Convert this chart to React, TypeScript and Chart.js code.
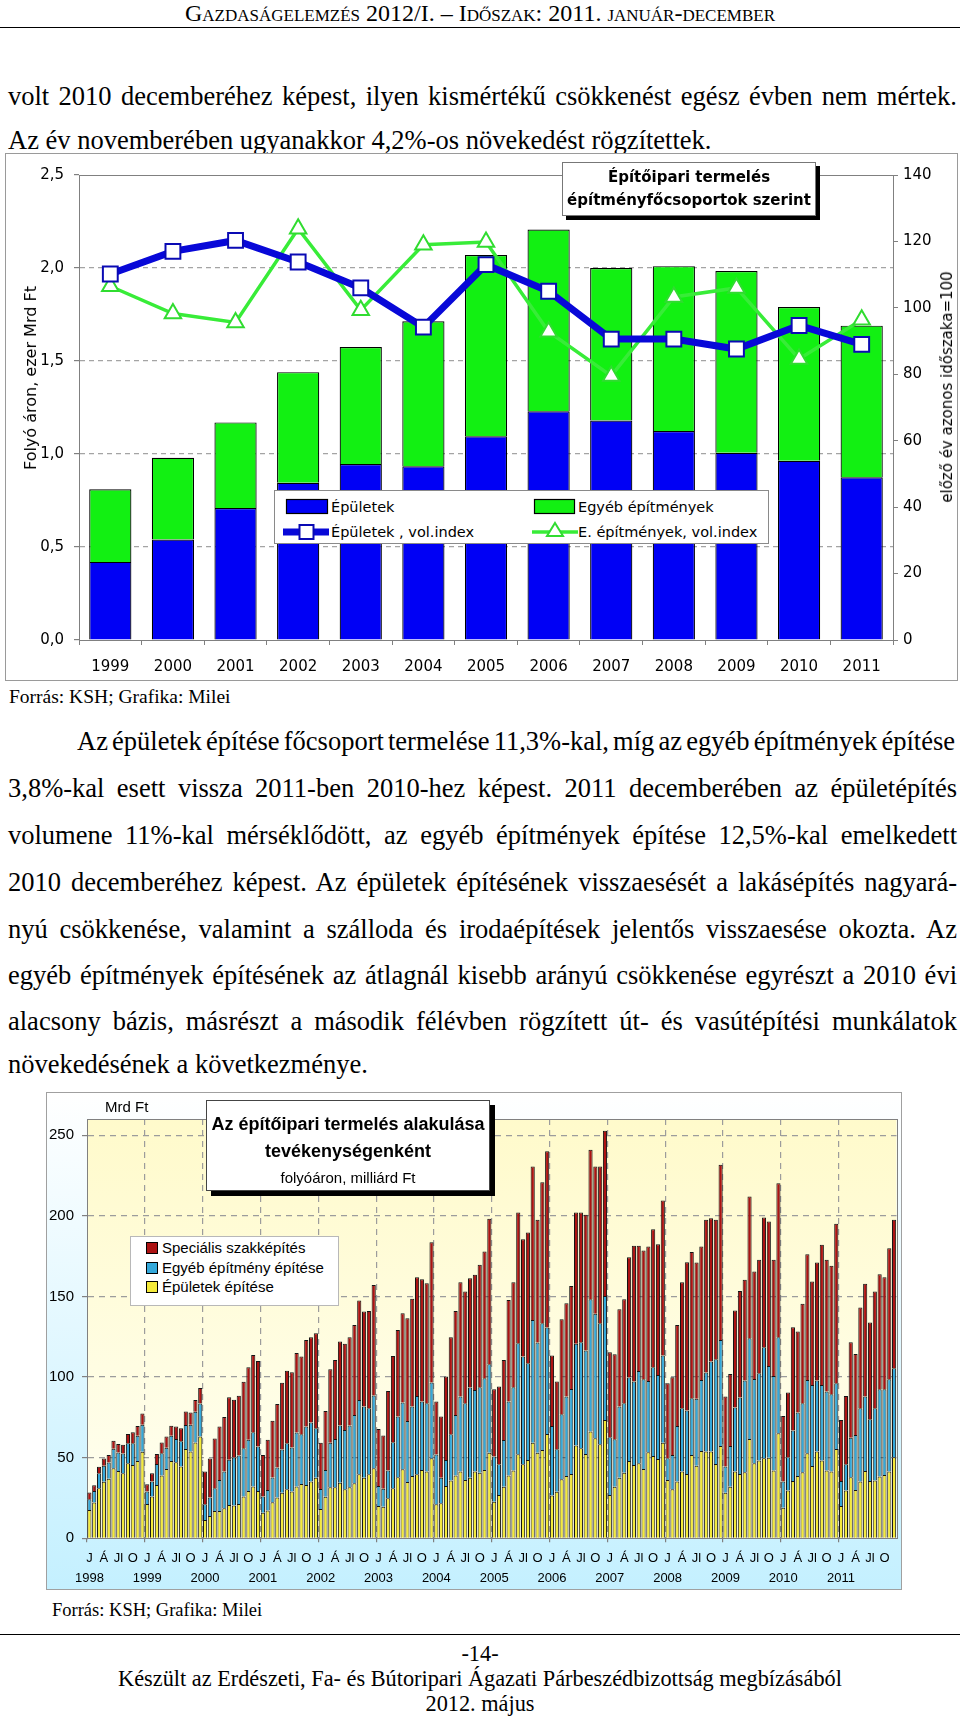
import React, { useEffect, useRef } from 'react';
import { Chart, registerables } from 'chart.js';

Chart.register(...registerables);

// ---------- 1. ábra: Építőipari termelés építményfőcsoportok szerint ----------
const EVEK = ['1999', '2000', '2001', '2002', '2003', '2004', '2005', '2006', '2007', '2008', '2009', '2010', '2011'];
// ezer Mrd Ft, folyó áron
const EPULETEK = [0.42, 0.54, 0.71, 0.845, 0.946, 0.934, 1.095, 1.23, 1.18, 1.123, 1.007, 0.964, 0.875];
const EGYEB_EPITMENYEK = [0.39, 0.44, 0.46, 0.595, 0.629, 0.78, 0.975, 0.977, 0.82, 0.887, 0.977, 0.826, 0.815];
// előző év azonos időszaka = 100
const EPULETEK_VOLINDEX = [110.2, 117, 120.3, 113.8, 106, 94.2, 113, 105, 90.6, 90.6, 87.6, 94.7, 89];
const EGYEB_VOLINDEX = [106.5, 98.3, 95.6, 123.8, 99.3, 119, 119.8, 92.8, 79.5, 103.3, 106, 84.6, 96.4];

// ---------- 2. ábra: havi termelés tevékenységenként (Mrd Ft) ----------
const HAVI_EVEK = [1998, 1999, 2000, 2001, 2002, 2003, 2004, 2005, 2006, 2007, 2008, 2009, 2010, 2011];
const HONAPOK = ['jan', 'febr', 'márc', 'ápr', 'máj', 'jún', 'júl', 'aug', 'szept', 'okt', 'nov', 'dec'];
const HONAP_JEL = ['J', '', '', 'Á', '', '', 'Jl', '', '', 'O', '', ''];

// Épületek építése (alsó réteg)
const EPULETEK_EPITESE = [
  17.6, 22.2, 31.0, 35.0, 37.0, 43.5, 41.8, 40.4, 46.6, 45.5, 48.0, 53.6,
  21.3, 25.9, 33.0, 39.0, 42.9, 48.0, 47.2, 44.5, 55.3, 53.8, 59.4, 63.1,
  11.4, 13.9, 17.0, 17.0, 18.6, 20.7, 20.3, 21.3, 25.9, 29.4, 32.1, 29.4,
  15.9, 17.2, 22.4, 25.3, 28.3, 30.4, 29.0, 32.1, 33.7, 33.0, 35.2, 37.6,
  18.2, 25.8, 31.6, 31.6, 34.5, 30.4, 31.6, 34.1, 39.7, 37.6, 39.7, 43.4,
  20.1, 19.6, 24.8, 31.0, 37.8, 42.8, 34.9, 38.7, 39.7, 42.4, 41.4, 49.6,
  21.1, 21.7, 32.5, 35.8, 38.9, 41.4, 36.2, 37.6, 41.4, 40.7, 42.4, 53.1,
  22.7, 26.9, 32.0, 38.9, 42.0, 52.1, 45.9, 48.6, 59.3, 53.1, 54.8, 64.7,
  26.5, 28.9, 36.6, 38.7, 39.9, 57.5, 55.8, 52.3, 66.2, 62.0, 58.3, 73.4,
  26.9, 32.0, 37.6, 40.7, 48.0, 45.5, 46.5, 43.0, 53.3, 51.0, 49.2, 59.3,
  36.2, 30.4, 35.2, 41.4, 39.9, 51.7, 45.0, 54.2, 53.8, 53.8, 46.1, 57.3,
  28.3, 32.0, 41.4, 39.9, 40.9, 61.6, 46.5, 48.2, 49.6, 50.0, 42.0, 65.1,
  19.0, 29.6, 35.6, 38.7, 40.9, 52.7, 44.9, 53.8, 48.2, 42.0, 41.4, 55.4,
  20.1, 29.6, 37.8, 30.0, 35.2, 41.8, 35.6, 35.8, 38.3, 39.3, 41.4, 50.2,
];
// Egyéb építmény építése réteg teteje (Épületek + Egyéb)
const EGYEB_RETEG_TETEJE = [
  24.2, 29.4, 40.4, 45.0, 47.0, 55.5, 53.2, 52.6, 59.0, 59.0, 63.6, 70.4,
  29.0, 35.2, 46.0, 52.8, 56.1, 63.6, 61.5, 60.2, 70.2, 70.4, 78.5, 83.6,
  21.1, 25.3, 31.0, 36.2, 41.4, 48.7, 50.1, 51.3, 55.9, 61.1, 65.8, 56.9,
  25.9, 30.0, 37.7, 43.9, 55.0, 59.0, 56.3, 65.6, 64.5, 69.3, 71.8, 68.2,
  30.6, 42.4, 59.3, 61.6, 69.9, 67.2, 69.9, 76.5, 85.8, 81.7, 80.6, 88.5,
  32.5, 30.8, 42.0, 59.6, 75.5, 84.2, 72.8, 81.7, 88.3, 84.8, 83.7, 96.6,
  52.0, 37.6, 48.6, 64.5, 76.5, 87.9, 83.7, 93.5, 92.0, 93.7, 99.3, 108.0,
  50.7, 45.9, 61.0, 84.8, 93.7, 121.0, 112.7, 108.6, 135.4, 121.4, 133.4, 130.7,
  69.7, 55.2, 76.9, 87.9, 92.6, 120.6, 121.6, 116.4, 148.3, 139.2, 133.4, 150.3,
  62.7, 61.4, 81.7, 83.7, 99.7, 97.2, 103.8, 98.6, 97.6, 106.0, 101.3, 113.3,
  49.6, 51.7, 69.7, 80.6, 79.2, 86.8, 86.5, 98.2, 102.8, 109.6, 111.0, 123.0,
  44.5, 57.3, 81.1, 87.3, 97.8, 124.0, 98.8, 102.4, 118.5, 106.9, 100.7, 124.7,
  35.2, 50.2, 66.8, 78.0, 83.7, 98.2, 95.1, 97.8, 95.1, 91.0, 89.3, 96.2,
  35.6, 45.9, 62.4, 64.1, 80.6, 87.9, 73.8, 80.6, 92.4, 92.4, 98.6, 105.5,
];
// Összesen (Speciális szakképítés réteg teteje)
const OSSZESEN = [
  28.4, 32.9, 44.3, 49.5, 51.6, 60.5, 58.4, 58.0, 64.6, 65.8, 69.6, 77.4,
  33.5, 40.4, 52.2, 59.4, 63.1, 69.8, 69.4, 68.3, 78.7, 78.0, 85.7, 93.2,
  41.4, 49.5, 61.9, 69.4, 75.2, 87.4, 85.9, 88.4, 97.1, 106.0, 113.7, 109.9,
  51.6, 61.1, 72.9, 83.2, 96.5, 103.9, 102.9, 114.9, 112.7, 123.0, 124.7, 127.2,
  59.3, 79.0, 104.8, 110.6, 122.0, 120.6, 124.7, 132.3, 147.4, 140.6, 141.0, 157.0,
  67.8, 63.7, 91.4, 113.1, 129.2, 139.6, 136.5, 148.5, 161.9, 160.7, 158.2, 183.5,
  84.8, 75.5, 100.3, 124.7, 141.0, 158.8, 153.0, 161.3, 163.4, 169.6, 177.8, 198.2,
  92.4, 94.1, 110.6, 147.8, 158.8, 202.0, 185.5, 189.6, 230.6, 197.5, 220.8, 240.0,
  113.3, 97.2, 135.9, 145.8, 156.5, 202.0, 202.0, 200.6, 240.9, 230.6, 230.6, 252.7,
  115.4, 114.1, 142.1, 148.3, 174.3, 181.4, 181.4, 178.5, 180.9, 191.7, 182.4, 209.5,
  96.2, 99.9, 132.3, 158.8, 171.2, 177.6, 171.0, 180.9, 197.5, 198.5, 197.5, 231.6,
  87.9, 101.9, 141.2, 153.4, 160.3, 212.0, 165.4, 172.7, 198.9, 196.4, 172.7, 220.2,
  75.9, 90.4, 130.9, 128.2, 145.4, 176.2, 159.2, 171.0, 182.0, 172.7, 169.0, 195.0,
  73.4, 88.3, 121.6, 114.3, 143.1, 157.8, 133.8, 153.0, 163.8, 161.9, 179.9, 197.5,
];

// ---------- szöveg ----------
const FEJLEC = 'Gazdaságelemzés 2012/I. – Időszak: 2011. január-december';
const FELSO_SOROK = [
  'volt 2010 decemberéhez képest, ilyen kismértékű csökkenést egész évben nem mértek.',
  'Az év novemberében ugyanakkor 4,2%-os növekedést rögzítettek.',
];
const BEKEZDES = [
  'Az épületek építése főcsoport termelése 11,3%-kal, míg az egyéb építmények építése',
  '3,8%-kal esett vissza 2011-ben 2010-hez képest. 2011 decemberében az épületépítés',
  'volumene 11%-kal mérséklődött, az egyéb építmények építése 12,5%-kal emelkedett',
  '2010 decemberéhez képest. Az épületek építésének visszaesését a lakásépítés nagyará-',
  'nyú csökkenése, valamint a szálloda és irodaépítések jelentős visszaesése okozta. Az',
  'egyéb építmények építésének az átlagnál kisebb arányú csökkenése egyrészt a 2010 évi',
  'alacsony bázis, másrészt a második félévben rögzített út- és vasútépítési munkálatok',
  'növekedésének a következménye.',
];
const FORRAS = 'Forrás: KSH; Grafika: Milei';

const SERIF = '"Liberation Serif", "Times New Roman", serif';
const SANS1 = '"DejaVu Sans", Verdana, sans-serif';
const SANS2 = '"Liberation Sans", Arial, sans-serif';

const BLUE_BAR = '#0000F5';
const GREEN_BAR = '#12F012';
const BLUE_LINE = '#0808D8';
const GREEN_LINE = '#38EC38';
const YELLOW = '#F4EA3A';
const CYAN = '#34A8DA';
const RED = '#AC1212';

function TextLine(props: { y: number; text: string; left?: number; width?: number; size?: number; justify?: boolean; center?: boolean; lh?: number; style?: any }) {
  const lh = props.lh ?? 40;
  const left = props.left ?? 8;
  const width = props.width ?? 949;
  return (
    <div
      style={{
        position: 'absolute',
        left,
        top: props.y - lh / 2,
        width,
        height: lh,
        lineHeight: lh + 'px',
        fontFamily: SERIF,
        fontSize: props.size ?? 26.5,
        whiteSpace: 'nowrap',
        wordSpacing: props.justify ? '-5px' : 'normal',
        textAlign: props.center ? 'center' : props.justify ? 'justify' : 'left',
        textAlignLast: props.center ? 'center' : props.justify ? 'justify' : 'left',
        color: '#000',
        ...(props.style || {}),
      } as any}
    >
      {props.text}
    </div>
  );
}

function EpitmenyChart() {
  const ref = useRef<HTMLCanvasElement>(null);
  useEffect(() => {
    const tickFont = { family: SANS1, size: 15 };
    const frame = {
      id: 'frame1',
      beforeDraw(c: any) {
        const { ctx, width, height } = c;
        ctx.save();
        ctx.fillStyle = '#fff';
        ctx.fillRect(0, 0, width, height);
        ctx.restore();
      },
      beforeDatasetsDraw(c: any) {
        const { ctx, chartArea: a } = c;
        ctx.save();
        ctx.strokeStyle = '#808080';
        ctx.lineWidth = 1;
        ctx.strokeRect(Math.round(a.left) + 0.5, Math.round(a.top) + 0.5, Math.round(a.width), Math.round(a.height));
        ctx.restore();
      },
      afterDraw(c: any) {
        const { ctx, width, height } = c;
        ctx.save();
        ctx.strokeStyle = '#9a9a9a';
        ctx.lineWidth = 1;
        ctx.strokeRect(0.5, 0.5, width - 1, height - 1);
        ctx.restore();
      },
    };
    const chart = new Chart(ref.current as HTMLCanvasElement, {
      type: 'bar',
      data: {
        labels: EVEK,
        datasets: [
          {
            type: 'line',
            label: 'Épületek , vol.index',
            data: EPULETEK_VOLINDEX,
            yAxisID: 'y2',
            order: 0,
            borderColor: BLUE_LINE,
            borderWidth: 7,
            pointStyle: 'rect',
            pointRadius: 10.5,
            pointBackgroundColor: '#fff',
            pointBorderColor: '#0A0AB4',
            pointBorderWidth: 2,
            tension: 0,
          } as any,
          {
            type: 'line',
            label: 'E. építmények, vol.index',
            data: EGYEB_VOLINDEX,
            yAxisID: 'y2',
            order: 1,
            borderColor: GREEN_LINE,
            borderWidth: 3.5,
            pointStyle: 'triangle',
            pointRadius: 9.5,
            pointBackgroundColor: '#fff',
            pointBorderColor: '#30DC30',
            pointBorderWidth: 2,
            tension: 0,
          } as any,
          {
            type: 'bar',
            label: 'Épületek',
            data: EPULETEK,
            yAxisID: 'y',
            order: 2,
            stack: 's',
            backgroundColor: BLUE_BAR,
            borderColor: '#000',
            borderWidth: 1.2,
            barPercentage: 0.674,
            categoryPercentage: 1,
          } as any,
          {
            type: 'bar',
            label: 'Egyéb építmények',
            data: EGYEB_EPITMENYEK,
            yAxisID: 'y',
            order: 3,
            stack: 's',
            backgroundColor: GREEN_BAR,
            borderColor: '#000',
            borderWidth: 1.2,
            barPercentage: 0.674,
            categoryPercentage: 1,
          } as any,
        ],
      },
      options: {
        animation: false,
        responsive: false,
        maintainAspectRatio: false,
        events: [],
        layout: { padding: { top: 22, left: 0, right: 0, bottom: 0 } },
        plugins: { legend: { display: false }, tooltip: { enabled: false }, title: { display: false } },
        scales: {
          x: {
            stacked: true,
            offset: true,
            grid: { display: true, drawOnChartArea: false, drawTicks: true, tickLength: 5, tickColor: '#808080', offset: true, color: '#808080' },
            border: { color: '#808080' },
            ticks: { color: '#000', font: tickFont, padding: 13, maxRotation: 0, autoSkip: false },
            afterFit: (s: any) => { s.height = 41; },
          },
          y: {
            stacked: true,
            position: 'left',
            min: 0,
            max: 2.5,
            ticks: {
              stepSize: 0.5,
              color: '#000',
              font: tickFont,
              padding: 10,
              callback: (v: any) => Number(v).toFixed(1).replace('.', ','),
            },
            grid: {
              color: (ctx: any) => (ctx.tick && ctx.tick.value > 0.01 && ctx.tick.value < 2.49 ? '#a4a4a4' : 'rgba(0,0,0,0)'),
              tickColor: '#808080',
              tickLength: 5,
              lineWidth: 1.2,
            },
            border: { color: '#808080', dash: [5, 4] },
            afterFit: (s: any) => { s.width = 74; },
          },
          y2: {
            position: 'right',
            min: 0,
            max: 140,
            ticks: { stepSize: 20, color: '#000', font: tickFont, padding: 5 },
            grid: { drawOnChartArea: false, tickColor: '#808080', tickLength: 5 },
            border: { color: '#808080' },
            afterFit: (s: any) => { s.width = 65; },
          },
        },
      } as any,
      plugins: [frame],
    });
    return () => chart.destroy();
  }, []);
  return <canvas ref={ref} width={953} height={528} style={{ position: 'absolute', left: 5, top: 153, width: 953, height: 528 }} />;
}

function HaviChart() {
  const ref = useRef<HTMLCanvasElement>(null);
  useEffect(() => {
    const labels = HAVI_EVEK.flatMap((ev) => HONAPOK.map((h) => `${ev}. ${h}`));
    const egyebSav = EPULETEK_EPITESE.map((v, i) => [v, EGYEB_RETEG_TETEJE[i]]);
    const specSav = EGYEB_RETEG_TETEJE.map((v, i) => [v, OSSZESEN[i]]);
    const bg = {
      id: 'bg2',
      beforeDraw(c: any) {
        const { ctx, width, height, chartArea: a } = c;
        ctx.save();
        const g = ctx.createLinearGradient(0, 0, 0, height);
        g.addColorStop(0, '#ffffff');
        g.addColorStop(1, '#c4f0ff');
        ctx.fillStyle = g;
        ctx.fillRect(0, 0, width, height);
        const g2 = ctx.createLinearGradient(0, a.top, 0, a.bottom);
        g2.addColorStop(0, '#fffacb');
        g2.addColorStop(1, '#fffff2');
        ctx.fillStyle = g2;
        ctx.fillRect(a.left, a.top, a.width, a.height);
        ctx.restore();
      },
      beforeDatasetsDraw(c: any) {
        const { ctx, chartArea: a } = c;
        ctx.save();
        ctx.strokeStyle = '#808080';
        ctx.lineWidth = 1;
        ctx.strokeRect(Math.round(a.left) + 0.5, Math.round(a.top) + 0.5, Math.round(a.width), Math.round(a.height));
        ctx.restore();
      },
      afterDraw(c: any) {
        const { ctx, width, height } = c;
        ctx.save();
        ctx.strokeStyle = '#a0a0a0';
        ctx.lineWidth = 1;
        ctx.strokeRect(0.5, 0.5, width - 1, height - 1);
        ctx.restore();
      },
    };
    const barCommon = {
      borderColor: '#141414',
      borderWidth: 1,
      grouped: false,
      barPercentage: 0.86,
      categoryPercentage: 1,
    };
    const chart = new Chart(ref.current as HTMLCanvasElement, {
      type: 'bar',
      data: {
        labels,
        datasets: [
          { label: 'Épületek építése', data: EPULETEK_EPITESE, backgroundColor: YELLOW, order: 0, ...barCommon } as any,
          { label: 'Egyéb építmény építése', data: egyebSav, backgroundColor: CYAN, order: 1, ...barCommon } as any,
          { label: 'Speciális szakképítés', data: specSav, backgroundColor: RED, order: 2, ...barCommon } as any,
        ],
      },
      options: {
        animation: false,
        responsive: false,
        maintainAspectRatio: false,
        events: [],
        layout: { padding: { top: 27, left: 0, right: 5.5, bottom: 0 } },
        plugins: { legend: { display: false }, tooltip: { enabled: false } },
        scales: {
          x: {
            offset: true,
            grid: {
              offset: true,
              drawOnChartArea: true,
              color: (ctx: any) => (typeof ctx.index === 'number' && ctx.index % 12 === 0 && ctx.index > 0 ? '#9c9c9c' : 'rgba(0,0,0,0)'),
              tickColor: (ctx: any) => (typeof ctx.index === 'number' && ctx.index % 12 === 0 ? '#808080' : 'rgba(0,0,0,0)'),
              tickLength: 4,
              lineWidth: 1.2,
            },
            border: { color: '#808080', dash: [6, 5] },
            ticks: {
              autoSkip: false,
              maxRotation: 0,
              minRotation: 0,
              padding: 6,
              color: '#000',
              font: { family: SANS2, size: 13, lineHeight: 1.55 },
              callback: (_v: any, i: number) => {
                const m = i % 12;
                if (m === 0) return [HONAP_JEL[m], String(HAVI_EVEK[i / 12])];
                return HONAP_JEL[m];
              },
            },
            afterFit: (s: any) => { s.height = 51.7; },
          },
          y: {
            min: 0,
            max: 260,
            ticks: { stepSize: 50, includeBounds: false, padding: 8, color: '#000', font: { family: SANS2, size: 15 } },
            grid: {
              color: (ctx: any) => (ctx.tick && ctx.tick.value > 0 ? '#9c9c9c' : 'rgba(0,0,0,0)'),
              tickColor: '#808080',
              tickLength: 5,
              lineWidth: 1.2,
            },
            border: { color: '#808080', dash: [6, 5] },
            afterFit: (s: any) => { s.width = 41; },
          },
        },
      } as any,
      plugins: [bg],
    });
    return () => chart.destroy();
  }, []);
  return <canvas ref={ref} width={856} height={498} style={{ position: 'absolute', left: 46, top: 1092, width: 856, height: 498 }} />;
}

function Chart1Overlay() {
  const txt: any = { position: 'absolute', fontFamily: SANS1, fontSize: 14.5, color: '#000', whiteSpace: 'nowrap', lineHeight: '18px' };
  return (
    <>
      {/* cím */}
      <div
        style={{
          position: 'absolute', left: 562, top: 162, width: 254, height: 54, boxSizing: 'border-box',
          background: '#fff', border: '1px solid #777', boxShadow: '4px 4px 0 #000',
          fontFamily: SANS1, fontWeight: 'bold', fontSize: 15, lineHeight: '23px', textAlign: 'center', paddingTop: 3,
        }}
      >
        <div>Építőipari termelés</div>
        <div>építményfőcsoportok szerint</div>
      </div>
      {/* tengelycímek */}
      <div style={{ ...txt, left: 31, top: 378, transform: 'translate(-50%,-50%) rotate(-90deg)', fontSize: 16 }}>Folyó áron, ezer Mrd Ft</div>
      <div style={{ ...txt, left: 947, top: 387, transform: 'translate(-50%,-50%) rotate(-90deg)', fontSize: 15 }}>előző év azonos időszaka=100</div>
      {/* jelmagyarázat */}
      <div style={{ position: 'absolute', left: 274, top: 490, width: 495, height: 54, boxSizing: 'border-box', background: '#fff', border: '1px solid #8a8a8a' }} />
      <svg style={{ position: 'absolute', left: 274, top: 490 }} width={495} height={54}>
        <rect x={12.5} y={9.5} width={41} height={14} fill={BLUE_BAR} stroke="#000" strokeWidth={1.2} />
        <rect x={260.5} y={9.5} width={40} height={14} fill={GREEN_BAR} stroke="#000" strokeWidth={1.2} />
        <line x1={9} y1={42} x2={55} y2={42} stroke={BLUE_LINE} strokeWidth={7} />
        <rect x={25.5} y={35} width={14} height={14} fill="#fff" stroke="#0A0AB4" strokeWidth={2} />
        <line x1={258} y1={42} x2={304} y2={42} stroke={GREEN_LINE} strokeWidth={3.5} />
        <polygon points="281,33 289,46 273,46" fill="#fff" stroke="#30DC30" strokeWidth={2} />
      </svg>
      <div style={{ ...txt, left: 331, top: 507, transform: 'translateY(-50%)' }}>Épületek</div>
      <div style={{ ...txt, left: 578, top: 507, transform: 'translateY(-50%)' }}>Egyéb építmények</div>
      <div style={{ ...txt, left: 331, top: 532, transform: 'translateY(-50%)' }}>Épületek , vol.index</div>
      <div style={{ ...txt, left: 578, top: 532, transform: 'translateY(-50%)' }}>E. építmények, vol.index</div>
    </>
  );
}

function Chart2Overlay() {
  const txt: any = { position: 'absolute', fontFamily: SANS2, fontSize: 15, color: '#000', whiteSpace: 'nowrap', lineHeight: '18px' };
  return (
    <>
      <div style={{ ...txt, left: 105, top: 1107, transform: 'translateY(-50%)' }}>Mrd Ft</div>
      <div
        style={{
          position: 'absolute', left: 206, top: 1100, width: 284, height: 91, boxSizing: 'border-box',
          background: '#fff', border: '1px solid #444', boxShadow: '5px 5px 0 #000', textAlign: 'center', fontFamily: SANS2,
        }}
      >
        <div style={{ position: 'absolute', left: 0, right: 0, top: 23 - 12, lineHeight: '24px', fontWeight: 'bold', fontSize: 18 }}>Az építőipari termelés alakulása</div>
        <div style={{ position: 'absolute', left: 0, right: 0, top: 50 - 12, lineHeight: '24px', fontWeight: 'bold', fontSize: 18 }}>tevékenységenként</div>
        <div style={{ position: 'absolute', left: 0, right: 0, top: 77 - 11, lineHeight: '22px', fontSize: 15 }}>folyóáron, milliárd Ft</div>
      </div>
      <div style={{ position: 'absolute', left: 130, top: 1236, width: 209, height: 70, boxSizing: 'border-box', background: '#fff', border: '1px solid #b8b8b8' }} />
      <svg style={{ position: 'absolute', left: 130, top: 1236 }} width={209} height={70}>
        <rect x={16.5} y={6.5} width={11} height={11} fill={RED} stroke="#000" strokeWidth={1} />
        <rect x={16.5} y={26.5} width={11} height={11} fill={CYAN} stroke="#000" strokeWidth={1} />
        <rect x={16.5} y={45.5} width={11} height={11} fill={YELLOW} stroke="#000" strokeWidth={1} />
      </svg>
      <div style={{ ...txt, left: 162, top: 1248, transform: 'translateY(-50%)' }}>Speciális szakképítés</div>
      <div style={{ ...txt, left: 162, top: 1268, transform: 'translateY(-50%)' }}>Egyéb építmény építése</div>
      <div style={{ ...txt, left: 162, top: 1287, transform: 'translateY(-50%)' }}>Épületek építése</div>
    </>
  );
}

export default function App() {
  useEffect(() => {
    document.body.style.margin = '0';
    document.body.style.background = '#fff';
  }, []);
  const bekezdesY = [741, 788, 835, 881.5, 928.5, 974.5, 1020.5, 1064];
  return (
    <div style={{ position: 'absolute', left: 0, top: 0, width: 960, height: 1719, background: '#fff', overflow: 'hidden' }}>
      <TextLine y={13} text={FEJLEC} center left={0} width={960} size={24} lh={26} style={{ fontVariant: 'small-caps' }} />
      <div style={{ position: 'absolute', left: 0, top: 27, width: 960, height: 0, borderTop: '1.5px solid #000' }} />
      <TextLine y={96} text={FELSO_SOROK[0]} justify />
      <TextLine y={140} text={FELSO_SOROK[1]} />

      <EpitmenyChart />
      <Chart1Overlay />
      <TextLine y={697} text={FORRAS} size={19.5} left={9} lh={24} />

      {BEKEZDES.map((s, i) => (
        <TextLine
          key={i}
          y={bekezdesY[i]}
          text={s}
          justify={i < BEKEZDES.length - 1}
          left={i === 0 ? 77 : 8}
          width={i === 0 ? 878 : 949}
        />
      ))}

      <HaviChart />
      <Chart2Overlay />
      <TextLine y={1610} text={FORRAS} size={18.5} left={52} lh={24} />

      <div style={{ position: 'absolute', left: 0, top: 1634, width: 960, height: 0, borderTop: '1.5px solid #000' }} />
      <TextLine y={1653.5} text="-14-" center left={0} width={960} size={22.3} lh={26} />
      <TextLine y={1679} text="Készült az Erdészeti, Fa- és Bútoripari Ágazati Párbeszédbizottság megbízásából" center left={0} width={960} size={22.3} lh={26} />
      <TextLine y={1704} text="2012. május" center left={0} width={960} size={22.3} lh={26} />
    </div>
  );
}
